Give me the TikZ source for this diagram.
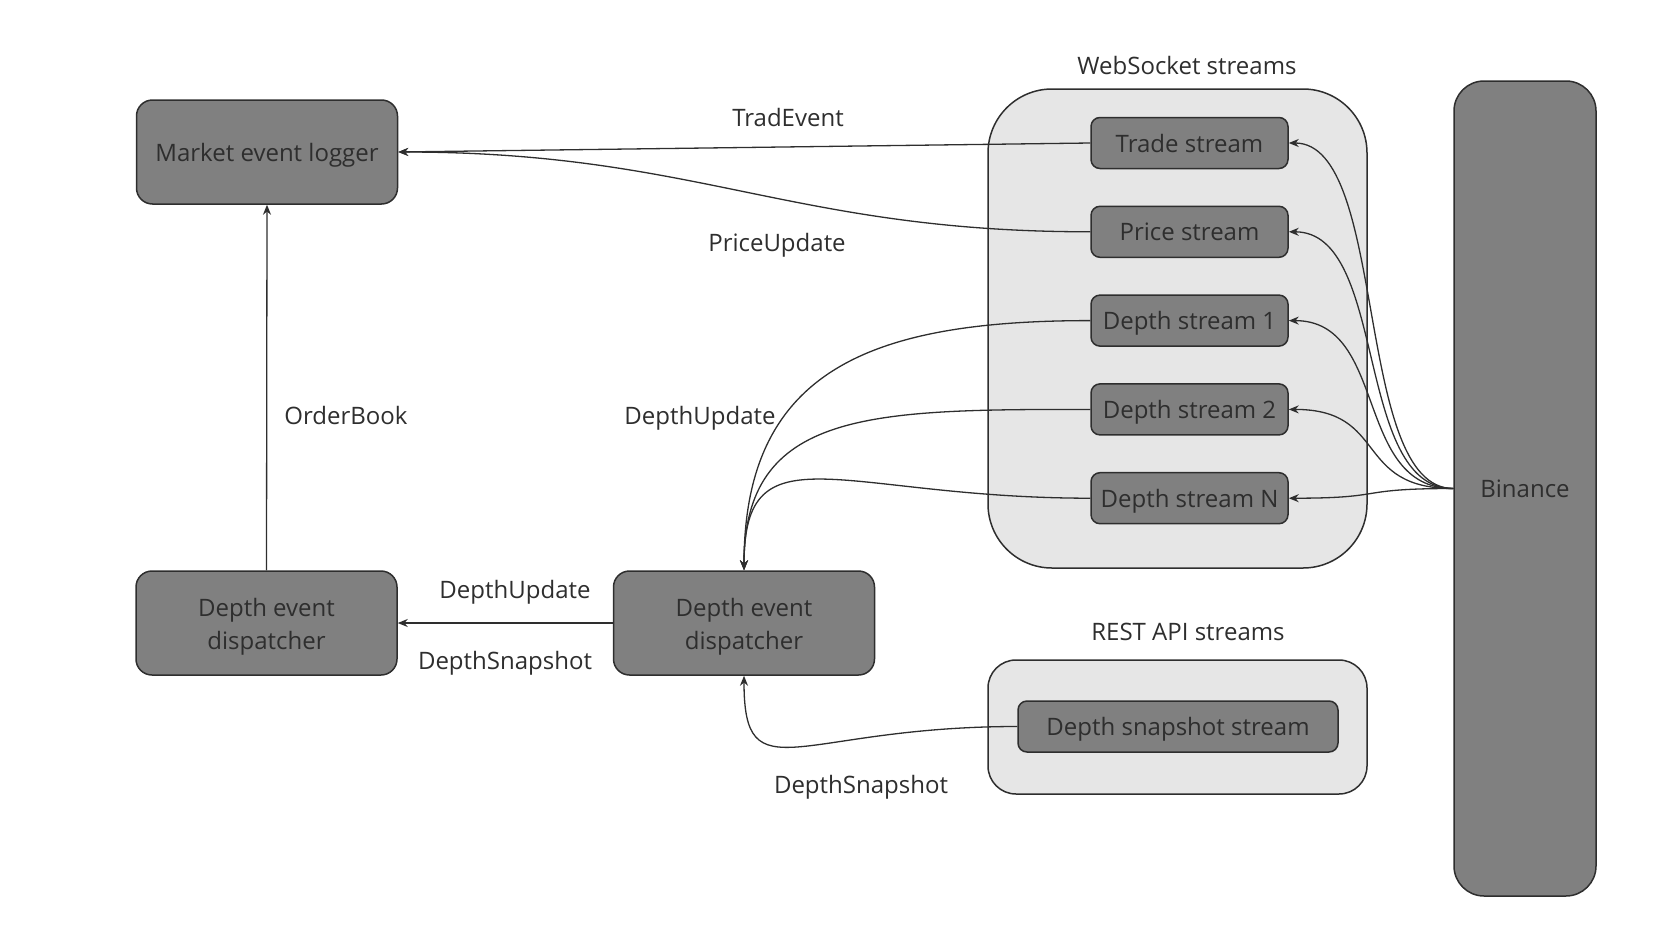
\documentclass[tikz,border=0pt]{standalone}
\usepackage{fontspec}
\setmainfont{Open Sans}
\usetikzlibrary{positioning}
\usetikzlibrary{arrows.meta}

\definecolor{boxgray}{HTML}{808080}
\definecolor{groupgray}{HTML}{E6E6E6}
\definecolor{inkgray}{HTML}{2E2E2E}
\newcommand{\diagfont}{\fontsize{24}{33}\selectfont}

\tikzset{
  block/.style={draw=inkgray,fill=boxgray,line width=1.5pt,rounded corners=16pt,
    minimum width=261pt,minimum height=104pt,align=center,text=inkgray,font=\diagfont},
  oneline/.style={text height=22pt,text depth=4pt},
  dispatcher/.style={block,text height=57pt,text depth=4pt},
  stream/.style={draw=inkgray,fill=boxgray,line width=1.5pt,rounded corners=9pt,
    minimum width=197pt,minimum height=51pt,inner sep=3pt,text=inkgray,font=\diagfont,oneline},
  group/.style={draw=inkgray,fill=groupgray,line width=1.5pt},
  lbl/.style={text=inkgray,font=\diagfont,inner sep=0pt,oneline},
  flow/.style={-{Stealth[length=10pt,width=8pt]},draw=inkgray,line width=1.3pt}
}

\begin{document}
\begin{tikzpicture}[x=1pt,y=-1pt,node distance=36.3pt]
  \useasboundingbox (0,0) rectangle (1666,937);
  % groups
  \node[group,rounded corners=64pt,minimum width=379pt,minimum height=479pt](wsgroup) at (1177.5,328.5) {};
  \node[group,rounded corners=28pt,minimum width=379pt,minimum height=134pt](restgroup) at (1177.5,727) {};
  \node[lbl](wslabel) at (1187,65) {WebSocket streams};
  \node[lbl](restlabel) at (1188,631) {REST API streams};
  % blocks
  \node[block,oneline](logger) at (267,152) {Market event logger};
  \node[dispatcher](disp2) at (266.5,623) {Depth event\\dispatcher};
  \node[dispatcher](disp1) at (744,623) {Depth event\\dispatcher};
  \node[block,oneline,rounded corners=30pt,minimum width=142pt,minimum height=815pt](binance) at (1525,488.5) {Binance};
  % streams
  \node[stream](trade) at (1189.5,143) {Trade stream};
  \node[stream,below= of trade](price) {Price stream};
  \node[stream,below= of price](depth1) {Depth stream 1};
  \node[stream,below= of depth1](depth2) {Depth stream 2};
  \node[stream,below= of depth2](depthN) {Depth stream N};
  \node[stream,minimum width=320pt](snapshot) at (1178,726.5) {Depth snapshot stream};
  % labels
  \node[lbl](tradelbl) at (788,117) {TradEvent};
  \node[lbl](pricelbl) at (777,242) {PriceUpdate};
  \node[lbl](booklbl) at (346,415) {OrderBook};
  \node[lbl](depthlbl) at (700,415) {DepthUpdate};
  \node[lbl](updlbl) at (515,589) {DepthUpdate};
  \node[lbl](snaplbl) at (505,660) {DepthSnapshot};
  \node[lbl](restsnaplbl) at (861,784) {DepthSnapshot};
  % connectors
  \draw[flow] (trade.west) -- (logger.east);
  \draw[flow] (price.west) .. controls +(-300,0) and +(300,0) .. (logger.east);
  \draw[flow] (depth1.west) .. controls +(-220,0) and +(0,-200) .. (disp1.north);
  \draw[flow] (depth2.west) .. controls +(-220,0) and +(0,-160) .. (disp1.north);
  \draw[flow] (depthN.west) .. controls +(-250,0) and +(0,-145) .. (disp1.north);
  \draw[flow] (disp1.west) -- (disp2.east);
  \draw[flow] (disp2.north) -- (logger.south);
  \draw[flow] (snapshot.west) .. controls +(-220,0) and +(0,120) .. (disp1.south);
  \foreach \s in {trade,price,depth1,depth2,depthN}
    \draw[flow] (binance.west) .. controls +(-100,0) and +(100,0) .. (\s.east);
\end{tikzpicture}
\end{document}
